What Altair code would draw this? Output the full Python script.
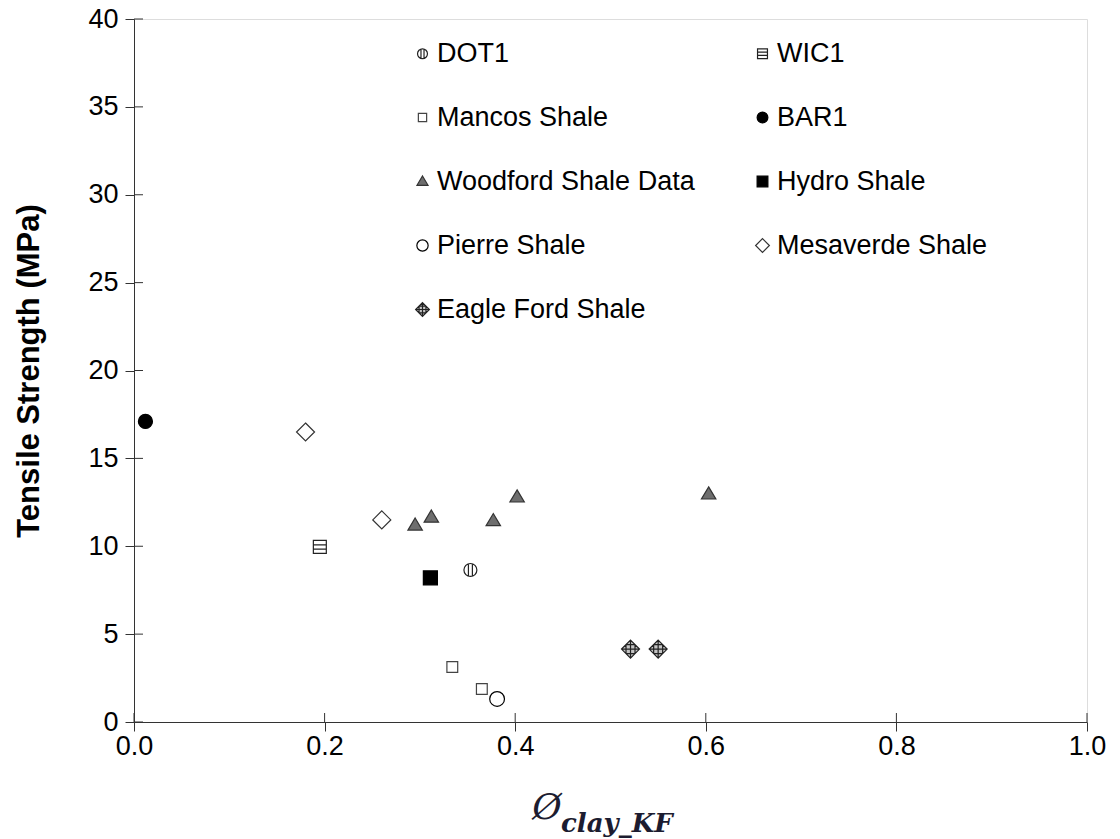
import altair as alt
import pandas as pd

# ---------------- data ----------------
# legend is laid out column by column: first column, then second column
series_order = ["DOT1", "Mancos Shale", "Woodford Shale Data", "Pierre Shale", "Eagle Ford Shale",
                "WIC1", "BAR1", "Hydro Shale", "Mesaverde Shale"]

dot1_x = [0.353];                      dot1_y = [8.65]
wic1_x = [0.195];                      wic1_y = [9.96]
mancos_x = [0.334, 0.365];             mancos_y = [3.13, 1.88]
bar1_x = [0.012];                      bar1_y = [17.1]
woodford_x = [0.295, 0.312, 0.377, 0.402, 0.603]
woodford_y = [11.2, 11.65, 11.45, 12.8, 12.97]
hydro_x = [0.311];                     hydro_y = [8.2]
pierre_x = [0.381];                    pierre_y = [1.31]
mesaverde_x = [0.180, 0.260];          mesaverde_y = [16.5, 11.5]
eagle_x = [0.521, 0.550];              eagle_y = [4.15, 4.15]

x_ticks = [0.0, 0.2, 0.4, 0.6, 0.8, 1.0]
y_ticks = [0, 5, 10, 15, 20, 25, 30, 35, 40]

rows = []
for name, xs, ys in [
    ("DOT1", dot1_x, dot1_y), ("WIC1", wic1_x, wic1_y),
    ("Mancos Shale", mancos_x, mancos_y), ("BAR1", bar1_x, bar1_y),
    ("Woodford Shale Data", woodford_x, woodford_y), ("Hydro Shale", hydro_x, hydro_y),
    ("Pierre Shale", pierre_x, pierre_y), ("Mesaverde Shale", mesaverde_x, mesaverde_y),
    ("Eagle Ford Shale", eagle_x, eagle_y)]:
    for a, b in zip(xs, ys):
        rows.append({"series": name, "x": a, "y": b})
df = pd.DataFrame(rows)

# ---------------- marker styles ----------------
def circ(r):
    return f"M{-r},0A{r},{r} 0 1,0 {r},0A{r},{r} 0 1,0 {-r},0Z"

def sq(h):
    return f"M{-h},{-h}H{h}V{h}H{-h}Z"

style = {
    "DOT1": (circ(0.72) + " M-0.22,-0.68V0.68 M0.22,-0.68V0.68", "white", "#222", 1.2),
    "WIC1": (sq(0.72) + " M-0.72,-0.24H0.72 M-0.72,0.24H0.72", "white", "#222", 1.2),
    "Mancos Shale": (sq(0.6), "white", "#444", 1.2),
    "BAR1": (circ(0.78), "black", "black", 1),
    "Woodford Shale Data": ("M0,-0.8L0.8,0.55L-0.8,0.55Z", "#6e6e6e", "#333", 1.2),
    "Hydro Shale": (sq(0.78), "black", "black", 1),
    "Pierre Shale": (circ(0.82), "white", "black", 2.2),
    "Mesaverde Shale": ("M0,-1L1,0L0,1L-1,0Z", "white", "#333", 1.4),
    "Eagle Ford Shale": ("M0,-1L1,0L0,1L-1,0Z M-0.5,-0.5V0.5 M0,-1V1 M0.5,-0.5V0.5 "
                         "M-0.5,-0.5H0.5 M-1,0H1 M-0.5,0.5H0.5", "#c4c4c4", "#222", 1.2),
}
shapes = [style[s][0] for s in series_order]
fills = [style[s][1] for s in series_order]
strokes = [style[s][2] for s in series_order]
widths = [style[s][3] for s in series_order]

W, H = 953, 703
FONT = "Liberation Sans"

leg = alt.Legend(title=None, orient="none", legendX=275, legendY=21, columns=2,
                 columnPadding=54, rowPadding=36, labelFontSize=27, labelFont=FONT,
                 labelColor="black", labelOffset=1, symbolSize=190, padding=0,
                 labelLimit=400)

x_axis = alt.Axis(values=x_ticks, format=".1f", title=None, grid=False,
                  labelFontSize=27, labelFont=FONT, labelColor="black",
                  tickSize=9, tickColor="#333", domainColor="#333",
                  labelPadding=2, labelFlush=False)
y_axis = alt.Axis(values=y_ticks, title="Tensile Strength (MPa)", grid=False,
                  labelFontSize=27, labelFont=FONT, labelColor="black",
                  tickSize=9, tickColor="#333", domainColor="#333",
                  labelPadding=7, titleFont=FONT, titleFontSize=31,
                  titleFontWeight="bold", titleColor="black", titlePadding=42)
x_scale = alt.Scale(domain=[0, 1], nice=False, zero=False)
y_scale = alt.Scale(domain=[0, 40], nice=False)

points = alt.Chart(df).mark_point(size=324, opacity=1, fillOpacity=1, strokeOpacity=1).encode(
    x=alt.X("x:Q", scale=x_scale, axis=x_axis),
    y=alt.Y("y:Q", scale=y_scale, axis=y_axis),
    shape=alt.Shape("series:N", scale=alt.Scale(domain=series_order, range=shapes),
                    sort=series_order, legend=leg),
    fill=alt.Fill("series:N", scale=alt.Scale(domain=series_order, range=fills),
                  sort=series_order, legend=leg),
    stroke=alt.Stroke("series:N", scale=alt.Scale(domain=series_order, range=strokes),
                      sort=series_order, legend=leg),
    strokeWidth=alt.StrokeWidth("series:N", scale=alt.Scale(domain=series_order, range=widths),
                                sort=series_order, legend=leg),
)

ytick_df = pd.DataFrame({"y": y_ticks})
xtick_df = pd.DataFrame({"x": x_ticks})

y_inner = alt.Chart(ytick_df).mark_rule(color="#333", strokeWidth=1).encode(
    y=alt.Y("y:Q", scale=y_scale, axis=y_axis), x=alt.value(0), x2=alt.value(9))
x_inner = alt.Chart(xtick_df).mark_rule(color="#333", strokeWidth=1).encode(
    x=alt.X("x:Q", scale=x_scale, axis=x_axis), y=alt.value(H), y2=alt.value(H - 9))

phi = alt.Chart(pd.DataFrame({"t": ["Ø"]})).mark_text(
    font="DejaVu Serif", fontStyle="italic", fontSize=36, align="center",
    baseline="alphabetic", color="#1c1c30").encode(
    text="t:N", x=alt.value(413), y=alt.value(800))
sub = alt.Chart(pd.DataFrame({"t": ["clay_KF"]})).mark_text(
    font="DejaVu Serif", fontStyle="italic", fontWeight="bold", fontSize=26, align="left",
    baseline="alphabetic", color="#1c1c30").encode(
    text="t:N", x=alt.value(427), y=alt.value(813))

chart = alt.layer(points, y_inner, x_inner, phi, sub).properties(
    width=W, height=H,
    autosize=alt.AutoSizeParams(type="none"),
    padding={"left": 134, "top": 19, "right": 33, "bottom": 117},
).configure_view(stroke="#333", strokeWidth=1).configure(background="white")

chart.save("out.html", embed_options={"renderer": "svg", "actions": False})
